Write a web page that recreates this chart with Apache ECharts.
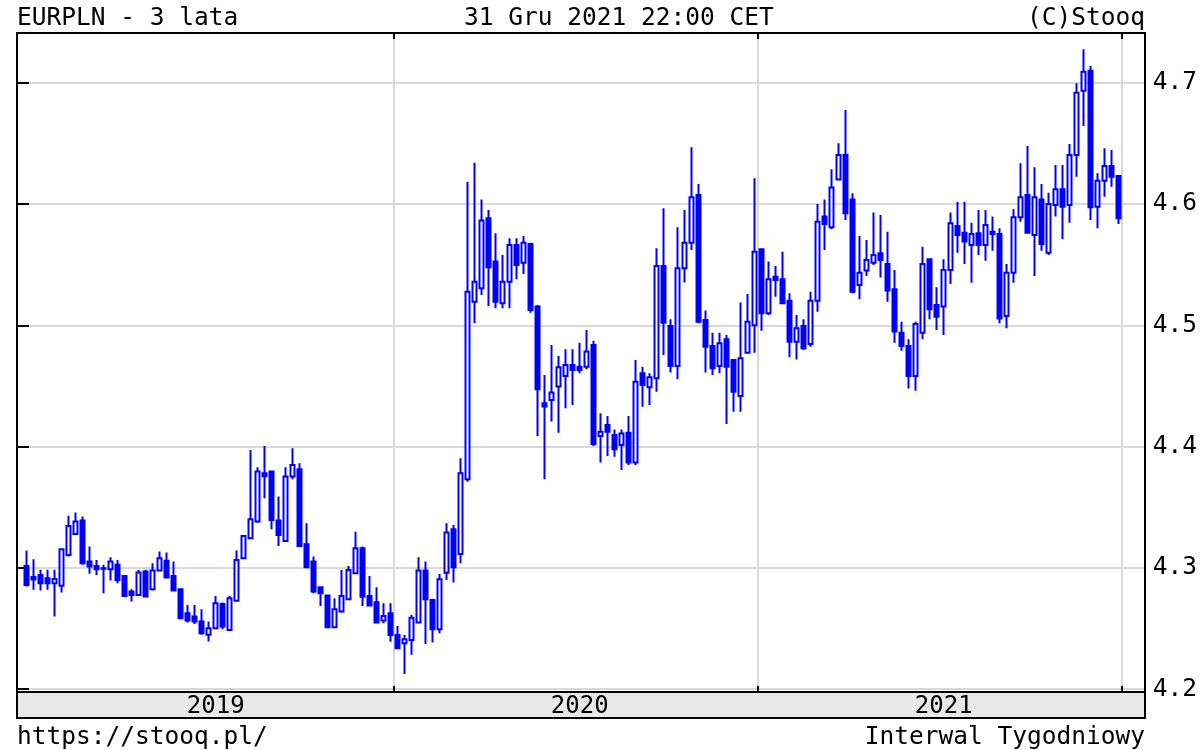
<!DOCTYPE html>
<html>
<head>
<meta charset="utf-8">
<title>EURPLN - 3 lata</title>
<script src="https://cdn.jsdelivr.net/npm/echarts@6/dist/echarts.min.js"></script>
<style>
  html, body { margin: 0; padding: 0; background: #fff; }
  #chart { width: 1200px; height: 750px; }
</style>
</head>
<body>
<div id="chart"></div>
<script>
// tygodniowe swiece EURPLN, 2019-2021
var opens = [
  4.3016, 4.2925, 4.2942, 4.2915, 4.2874, 4.2852, 4.3107, 4.3280, 4.3390, 4.3052, 4.3016, 4.2997, 4.2989, 4.3025, 4.2934, 4.2805, 4.2777, 4.2970, 4.2824, 4.2978, 4.3058, 4.2934, 4.2824, 4.2626, 4.2599, 4.2558,
  4.2448, 4.2502, 4.2703, 4.2489, 4.2730, 4.3079, 4.3244, 4.3382, 4.3780, 4.3794, 4.3390, 4.3222, 4.3753, 4.3813, 4.3195, 4.3052, 4.2840, 4.2772, 4.2511, 4.2640, 4.2741, 4.2956, 4.3162, 4.2769, 4.2717, 4.2566,
  4.2626, 4.2447, 4.2379, 4.2406, 4.2549, 4.2978, 4.2736, 4.2494, 4.2961, 4.3318, 4.3115, 4.3731, 4.5195, 4.5305, 4.5882, 4.5525, 4.5181, 4.5360, 4.5662, 4.5516, 4.5670, 4.5154, 4.4357, 4.4385, 4.4495, 4.4582,
  4.4673, 4.4659, 4.4659, 4.4838, 4.4087, 4.4178, 4.4096, 4.4013, 4.4115, 4.3868, 4.4604, 4.4489, 4.4563, 4.5489, 4.4994, 4.4665, 4.5470, 4.5681, 4.6074, 4.5044, 4.4829, 4.4665, 4.4884, 4.4714, 4.4417, 4.4774,
  4.5000, 4.5626, 4.5099, 4.5401, 4.5379, 4.5203, 4.4865, 4.4994, 4.4846, 4.5203, 4.5896, 4.5808, 4.6203, 4.6404, 4.6038, 4.5332, 4.5451, 4.5516, 4.5593, 4.5505, 4.5297, 4.4939, 4.4829, 4.4582, 4.4939, 4.5544,
  4.5167, 4.5154, 4.5456, 4.5819, 4.5764, 4.5662, 4.5758, 4.5662, 4.5772, 4.5753, 4.5077, 4.5434, 4.5890, 4.6074, 4.5745, 4.6038, 4.5599, 4.5992, 4.6121, 4.5992, 4.6404, 4.6934, 4.7099, 4.5978, 4.6192, 4.6313, 4.6231
];
var closes = [
  4.2860, 4.2905, 4.2874, 4.2874, 4.2909, 4.3154, 4.3346, 4.3382, 4.3038, 4.3011, 4.2989, 4.2992, 4.3052, 4.2901, 4.2769, 4.2777, 4.2962, 4.2764, 4.2978, 4.3080, 4.2920, 4.2813, 4.2585, 4.2566, 4.2558, 4.2461,
  4.2503, 4.2708, 4.2516, 4.2750, 4.3066, 4.3264, 4.3401, 4.3794, 4.3755, 4.3395, 4.3272, 4.3753, 4.3849, 4.3181, 4.3005, 4.2805, 4.2791, 4.2511, 4.2659, 4.2769, 4.2983, 4.3162, 4.2763, 4.2689, 4.2549, 4.2604,
  4.2447, 4.2337, 4.2411, 4.2590, 4.2978, 4.2741, 4.2494, 4.2906, 4.3291, 4.3005, 4.3780, 4.5277, 4.5360, 4.5863, 4.5478, 4.5195, 4.5360, 4.5662, 4.5497, 4.5681, 4.5126, 4.4472, 4.4330, 4.4445, 4.4654, 4.4673,
  4.4632, 4.4632, 4.4783, 4.4021, 4.4123, 4.4123, 4.3978, 4.4109, 4.3868, 4.4535, 4.4508, 4.4571, 4.5489, 4.5022, 4.4665, 4.5470, 4.5681, 4.6055, 4.5030, 4.4824, 4.4645, 4.4851, 4.4659, 4.4453, 4.4728, 4.5030,
  4.5607, 4.5099, 4.5379, 4.5374, 4.5181, 4.4865, 4.4975, 4.4810, 4.5203, 4.5854, 4.5835, 4.6137, 4.6404, 4.5923, 4.5277, 4.5434, 4.5538, 4.5580, 4.5538, 4.5286, 4.4948, 4.4829, 4.4582, 4.5011, 4.5505, 4.5132,
  4.5071, 4.5456, 4.5841, 4.5744, 4.5690, 4.5753, 4.5662, 4.5827, 4.5753, 4.5057, 4.5434, 4.5890, 4.6055, 4.5764, 4.6055, 4.5670, 4.6000, 4.6121, 4.5978, 4.6404, 4.6918, 4.7091, 4.5973, 4.6192, 4.6313, 4.6225, 4.5882
];
var lows = [
  4.2846, 4.2819, 4.2813, 4.2819, 4.2599, 4.2797, 4.3093, 4.3272, 4.3025, 4.2951, 4.2942, 4.2791, 4.2896, 4.2874, 4.2764, 4.2722, 4.2772, 4.2758, 4.2813, 4.2970, 4.2915, 4.2805, 4.2582, 4.2549, 4.2538, 4.2448,
  4.2393, 4.2494, 4.2494, 4.2483, 4.2722, 4.3075, 4.3236, 4.3373, 4.3574, 4.3318, 4.3180, 4.3217, 4.3731, 4.3181, 4.3005, 4.2791, 4.2686, 4.2511, 4.2511, 4.2631, 4.2736, 4.2950, 4.2686, 4.2681, 4.2544, 4.2544,
  4.2392, 4.2329, 4.2126, 4.2283, 4.2544, 4.2373, 4.2384, 4.2461, 4.2901, 4.2879, 4.3038, 4.3710, 4.5016, 4.5250, 4.5159, 4.5140, 4.5140, 4.5140, 4.5379, 4.5423, 4.5104, 4.4087, 4.3730, 4.4206, 4.4115, 4.4316,
  4.4343, 4.4604, 4.4637, 4.4005, 4.3868, 4.3923, 4.3917, 4.3807, 4.3848, 4.3848, 4.4329, 4.4343, 4.4453, 4.4755, 4.4610, 4.4555, 4.5352, 4.5621, 4.5016, 4.4610, 4.4590, 4.4604, 4.4186, 4.4288, 4.4288, 4.4769,
  4.4774, 4.4956, 4.5085, 4.5236, 4.5176, 4.4736, 4.4719, 4.4796, 4.4824, 4.5112, 4.5621, 4.5791, 4.6198, 4.5868, 4.5264, 4.5214, 4.5406, 4.5497, 4.5395, 4.5195, 4.4857, 4.4790, 4.4480, 4.4461, 4.4884, 4.5049,
  4.4961, 4.4920, 4.5340, 4.5599, 4.5505, 4.5351, 4.5580, 4.5533, 4.5615, 4.5016, 4.4975, 4.5351, 4.5854, 4.5758, 4.5406, 4.5615, 4.5580, 4.5896, 4.5709, 4.5846, 4.6225, 4.6643, 4.5868, 4.5800, 4.6060, 4.6143, 4.5835
];
var highs = [
  4.3143, 4.3071, 4.2984, 4.2984, 4.2984, 4.3162, 4.3429, 4.3456, 4.3423, 4.3176, 4.3066, 4.3025, 4.3088, 4.3066, 4.2942, 4.2824, 4.2984, 4.2984, 4.3038, 4.3135, 4.3126, 4.3052, 4.2832, 4.2695, 4.2695, 4.2659,
  4.2558, 4.2769, 4.2714, 4.2769, 4.3143, 4.3270, 4.3973, 4.3830, 4.4005, 4.3800, 4.3588, 4.3830, 4.3986, 4.3863, 4.3368, 4.3093, 4.2840, 4.2772, 4.2750, 4.2983, 4.3016, 4.3299, 4.3176, 4.2934, 4.2840, 4.2708,
  4.2708, 4.2522, 4.2447, 4.2612, 4.3088, 4.3052, 4.2745, 4.2950, 4.3368, 4.3354, 4.3904, 4.6184, 4.6341, 4.6038, 4.5951, 4.5758, 4.5580, 4.5717, 4.5717, 4.5736, 4.5681, 4.5168, 4.4590, 4.4838, 4.4747, 4.4802,
  4.4802, 4.4857, 4.4961, 4.4873, 4.4274, 4.4252, 4.4142, 4.4142, 4.4252, 4.4714, 4.4659, 4.4604, 4.5635, 4.5964, 4.5049, 4.5808, 4.5951, 4.6467, 4.6165, 4.5121, 4.4939, 4.4939, 4.4920, 4.4720, 4.5187, 4.5258,
  4.6212, 4.5626, 4.5525, 4.5489, 4.5607, 4.5264, 4.5085, 4.5049, 4.5277, 4.6000, 4.6038, 4.6286, 4.6500, 4.6775, 4.6088, 4.5736, 4.5703, 4.5929, 4.5909, 4.5772, 4.5456, 4.5030, 4.4884, 4.5030, 4.5648, 4.5544,
  4.5313, 4.5544, 4.5929, 4.6019, 4.6019, 4.5846, 4.5951, 4.5951, 4.5896, 4.5800, 4.5505, 4.5956, 4.6335, 4.6478, 4.6302, 4.6165, 4.6093, 4.6322, 4.6322, 4.6495, 4.6995, 4.7275, 4.7138, 4.6253, 4.6459, 4.6445, 4.6231
];

// piatki kolejnych tygodni (kategorie osi X)
var firstWeek = Date.UTC(2019, 0, 4);
var weeks = [];
for (var i = 0; i < opens.length; i++) {
  weeks.push(new Date(firstWeek + i * 7 * 86400000).toISOString().slice(0, 10));
}
var yearLabelWeeks = ['2019-07-12', '2020-07-10', '2021-07-09'];
var priceMin = 4.2, priceMax = 4.7, priceStep = 0.1;

var candles = weeks.map(function (w, i) {
  return [opens[i], closes[i], lows[i], highs[i]];
});

function yearOf(i) { return weeks[i] ? weeks[i].slice(0, 4) : null; }
// linia roku po pierwszym tygodniu nowego roku
function isYearStart(index) {
  return index >= 2 && yearOf(index - 1) !== yearOf(index - 2);
}

var FONT = 'DejaVu Sans Mono';
var TICK = { show: true, length: 6, lineStyle: { color: '#000', width: 2 } };
var pxPerUnit = 606.5 / (priceMax - priceMin);
var fullMin = priceMin - 2.8 / pxPerUnit;
var fullMax = priceMax + 49.7 / pxPerUnit;

var chart = echarts.init(document.getElementById('chart'));
chart.setOption({
  animation: false,
  backgroundColor: '#fff',
  textStyle: { fontFamily: FONT },
  title: [
    { text: 'EURPLN - 3 lata', left: 17, top: 6, padding: 0 },
    { text: '31 Gru 2021 22:00 CET', left: 464, top: 6, padding: 0 },
    { text: '(C)Stooq', right: 55, top: 6, padding: 0 },
    { text: 'https://stooq.pl/', left: 17, top: 725, padding: 0 },
    { text: 'Interwal Tygodniowy', right: 55, top: 725, padding: 0 }
  ].map(function (t) {
    t.textStyle = { fontFamily: FONT, fontSize: 24.5, fontWeight: 'normal', color: '#000', lineHeight: 25 };
    return t;
  }),
  grid: [
    // ramka
    { left: 17, top: 33, width: 1128, height: 659, show: true, z: 10,
      backgroundColor: 'transparent', borderColor: '#000', borderWidth: 2 },
    // linie poziome + os cen
    { left: 17, top: 82.7, width: 1128, height: 606.5 },
    // swiece
    { left: 23.2, top: 33, width: 1099, height: 659 },
    // pasek z latami
    { left: 17, top: 692, width: 1128, height: 26, show: true, z: 0,
      backgroundColor: '#e8e8e8', borderColor: '#000', borderWidth: 2 }
  ],
  xAxis: [
    { gridIndex: 0, type: 'value', show: false, min: 0, max: 1 },
    { gridIndex: 1, type: 'value', show: false, min: 0, max: 1 },
    {
      gridIndex: 2, type: 'category', data: weeks, position: 'bottom', offset: -6, z: 1,
      axisLine: { show: false },
      axisTick: Object.assign({ interval: isYearStart }, TICK),
      axisLabel: {
        show: true, margin: 9, fontFamily: FONT, fontSize: 24, color: '#000',
        interval: function (index, value) { return yearLabelWeeks.indexOf(value) >= 0; },
        formatter: function (value) { return value.slice(0, 4); }
      },
      splitLine: { show: true, interval: isYearStart,
        lineStyle: { color: '#d9d9d9', width: 2 } }
    },
    {
      gridIndex: 2, type: 'category', data: weeks, position: 'top', offset: -6, z: 1,
      axisLine: { show: false },
      axisTick: Object.assign({ interval: isYearStart }, TICK),
      axisLabel: { show: false },
      splitLine: { show: false }
    },
    { gridIndex: 3, type: 'value', show: false, min: 0, max: 1 }
  ],
  yAxis: [
    { gridIndex: 0, type: 'value', show: false, min: 0, max: 1 },
    {
      gridIndex: 1, type: 'value', position: 'right', offset: -6,
      min: priceMin, max: priceMax, interval: priceStep,
      axisLine: { show: false },
      axisTick: TICK,
      axisLabel: { margin: 14, fontFamily: FONT, fontSize: 24.5, color: '#000',
        formatter: function (v) { return v.toFixed(1); } },
      splitLine: { show: true, lineStyle: { color: '#d9d9d9', width: 2 } }
    },
    {
      gridIndex: 1, type: 'value', position: 'left', offset: -6,
      min: priceMin, max: priceMax, interval: priceStep,
      axisLine: { show: false },
      axisTick: TICK,
      axisLabel: { show: false },
      splitLine: { show: false }
    },
    { gridIndex: 2, type: 'value', show: false, min: fullMin, max: fullMax, scale: true },
    { gridIndex: 3, type: 'value', show: false, min: 0, max: 1 }
  ],
  series: [
    {
      name: 'EURPLN',
      type: 'candlestick',
      xAxisIndex: 2,
      yAxisIndex: 3,
      data: candles,
      barWidth: 4,
      clip: false,
      z: 2,
      itemStyle: {
        color: '#ffffff',
        color0: '#0000ff',
        borderColor: '#0000ff',
        borderColor0: '#0000ff',
        borderWidth: 2
      }
    }
  ]
});
</script>
</body>
</html>
